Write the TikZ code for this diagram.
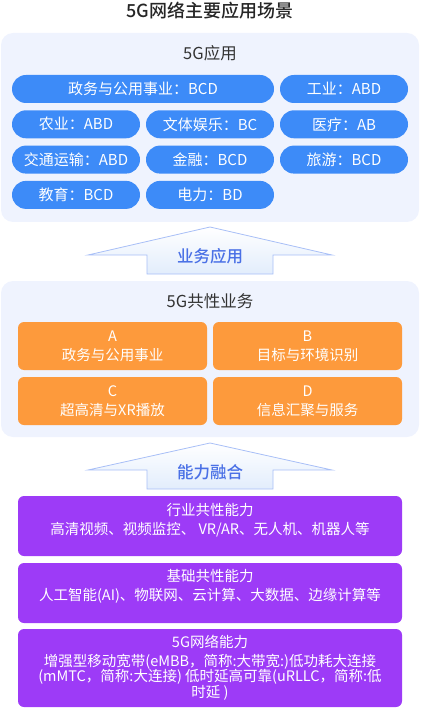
\documentclass[tikz,border=0pt]{standalone}
\usepackage{fontspec}
\setmainfont{Noto Sans CJK SC}
\newfontfamily\mediumfont{Noto Sans CJK SC Medium}
\usetikzlibrary{positioning}
\definecolor{panelbg}{RGB}{239, 243, 254}
\definecolor{pillblue}{RGB}{61, 139, 248}
\definecolor{boxorange}{RGB}{253, 154, 60}
\definecolor{boxpurple}{RGB}{157, 59, 247}
\definecolor{arrowline}{RGB}{168, 191, 247}
\definecolor{arrowfill}{RGB}{226, 237, 252}
\definecolor{arrowtext}{RGB}{74, 112, 230}
\definecolor{textdark}{RGB}{51, 51, 51}

\begin{document}
\begin{tikzpicture}[x=1pt, y=-1pt,
    panel/.style={fill=panelbg, rounded corners=12pt, minimum width=418pt, inner sep=0pt, outer sep=0pt},
    heading/.style={text=textdark, font=\fontsize{16.5}{20}\selectfont},
    pill/.style={fill=pillblue, text=white, rounded corners=14pt, minimum width=128pt, minimum height=28pt,
                 inner sep=0pt, outer sep=0pt, font=\fontsize{15}{18}\selectfont},
    orangebox/.style={fill=boxorange, text=white, rounded corners=6pt, minimum width=189pt, minimum height=48pt,
                      inner sep=0pt, outer sep=0pt, align=center, font=\fontsize{14.5}{19}\selectfont},
    purplebox/.style={fill=boxpurple, rounded corners=6pt, minimum width=384pt, inner sep=0pt, outer sep=0pt},
    boxtext/.style={text=white, align=center, inner sep=0pt, font=\fontsize{14.5}{18.5}\selectfont},
    uparrow/.style={draw=arrowline, line width=0.8pt, top color=white, bottom color=arrowfill},
    arrowlabel/.style={text=arrowtext, font=\fontsize{16.5}{20}\selectfont\mediumfont}]
  \useasboundingbox (0,0) rectangle (420,708);

  % title
  \node[text=black!85, font=\fontsize{18}{22}\selectfont\mediumfont] (title) at (210,11) {5G网络主要应用场景};

  % 5G applications
  \node[panel, minimum height=189pt] (apppanel) at (210,127.5) {};
  \node[heading] (apptitle) at (210,53) {5G应用};
  \node[pill, minimum width=262pt] (gov) at (143,89) {政务与公用事业：BCD};
  \node[pill, right=6pt of gov] (industry) {工业：ABD};
  \node[pill] (agri) at (76,124.3) {农业：ABD};
  \node[pill, right=6pt of agri] (culture) {文体娱乐：BC};
  \node[pill, right=6pt of culture] (medical) {医疗：AB};
  \node[pill, below=7.3pt of agri] (traffic) {交通运输：ABD};
  \node[pill, right=6pt of traffic] (finance) {金融：BCD};
  \node[pill, right=6pt of finance] (travel) {旅游：BCD};
  \node[pill, below=7.3pt of traffic] (edu) {教育：BCD};
  \node[pill, right=6pt of edu] (power) {电力：BD};

  % arrow 1
  \draw[uparrow] (147,274) -- (147,255) -- (88,255) -- (210,227) -- (332,255) -- (273,255) -- (273,274) -- cycle;
  \node[arrowlabel] (bizlabel) at (210,256) {业务应用};

  % 5G common services
  \node[panel, minimum height=156pt] (svcpanel) at (210,359) {};
  \node[heading] (svctitle) at (210,301) {5G共性业务};
  \node[orangebox] (svca) at (112.5,346) {A\\政务与公用事业};
  \node[orangebox, right=6pt of svca] (svcb) {B\\目标与环境识别};
  \node[orangebox, below=7pt of svca] (svcc) {C\\超高清与XR播放};
  \node[orangebox, right=6pt of svcc] (svcd) {D\\信息汇聚与服务};

  % arrow 2
  \draw[uparrow] (147,489) -- (147,470) -- (88,470) -- (210,443) -- (332,470) -- (273,470) -- (273,489) -- cycle;
  \node[arrowlabel] (caplabel) at (210,472) {能力融合};

  % capabilities
  \node[purplebox, minimum height=60pt] (industrycap) at (210,526) {};
  \node[boxtext] (industrytext) at (210,520) {行业共性能力\\高清视频、视频监控、 VR/AR、无人机、机器人等};
  \node[purplebox, minimum height=60pt, below=7pt of industrycap] (basecap) {};
  \node[boxtext] (basetext) at (210,586.5) {基础共性能力\\人工智能(AI)、物联网、云计算、大数据、边缘计算等};
  \node[purplebox, minimum height=78pt, below=6pt of basecap] (netcap) {};
  \node[boxtext, font=\fontsize{14.5}{15.5}\selectfont] (nettext) at (210,667.5)
    {5G网络能力\\[3pt]增强型移动宽带(eMBB，简称:大带宽:)低功耗大连接\\(mMTC，简称:大连接) 低时延高可靠(uRLLC，简称:低\\时延 )};
\end{tikzpicture}
\end{document}
